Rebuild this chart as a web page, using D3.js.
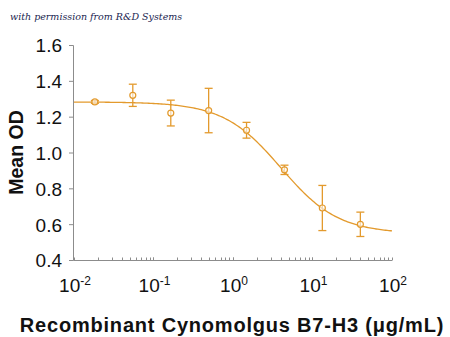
<!DOCTYPE html>
<html>
<head>
<meta charset="utf-8">
<script src="https://d3js.org/d3.v7.min.js"></script>
<style>
  body { margin: 0; background: #fff; }
  svg { display: block; }
</style>
</head>
<body>
<div id="chart"></div>
<script>
// concentrations (ug/mL), 3-fold serial dilution
var conc = [0.0183, 0.0549, 0.165, 0.494, 1.48, 4.44, 13.3, 40]
var meanOD = [1.285, 1.322, 1.223, 1.237, 1.127, 0.906, 0.693, 0.602]
var errOD = [0.008, 0.062, 0.072, 0.124, 0.044, 0.026, 0.126, 0.068]
// 4PL fit shown as the curve
var fitTop = 1.285, fitBottom = 0.55, fitEC50 = 4.0, fitHill = 1.2
var xTicks = [0.01, 0.1, 1, 10, 100]
var xTickLabels = ["-2", "-1", "0", "1", "2"]
var yTicks = [0.4, 0.6, 0.8, 1.0, 1.2, 1.4, 1.6]

var W = 450, H = 337
var orange = "#e39a2d"
var axisColour = "#8c8c8c"
var font = "Liberation Sans, Arial, sans-serif"

var svg = d3.select("#chart").append("svg")
  .attr("width", W).attr("height", H)

var x = d3.scaleLog().domain([0.01, 100]).range([74, 392])
var y = d3.scaleLinear().domain([0.4, 1.6]).range([260.5, 45.5])

svg.append("text")
  .attr("x", 10).attr("y", 20)
  .attr("font-family", "DejaVu Serif, serif")
  .attr("font-style", "italic")
  .attr("font-size", 9.5)
  .attr("fill", "#1a2550")
  .text("with permission from R&D Systems")

// y axis
var yAxis = svg.append("g")
yAxis.append("line")
  .attr("x1", 73.5).attr("x2", 73.5)
  .attr("y1", y(1.6)).attr("y2", y(0.4))
  .attr("stroke", axisColour)
yAxis.selectAll("line.tick").data(yTicks).enter().append("line")
  .attr("x1", 69).attr("x2", 73.5)
  .attr("y1", function (d) { return y(d) }).attr("y2", function (d) { return y(d) })
  .attr("stroke", axisColour)
yAxis.selectAll("text").data(yTicks).enter().append("text")
  .attr("x", 62).attr("y", function (d) { return y(d) })
  .attr("dy", "0.36em")
  .attr("text-anchor", "end")
  .attr("font-family", font)
  .attr("font-size", 19)
  .attr("fill", "#111")
  .text(function (d) { return d.toFixed(1) })

// x axis
var xAxis = svg.append("g")
xAxis.append("line")
  .attr("x1", 73.5).attr("x2", 392)
  .attr("y1", 260.5).attr("y2", 260.5)
  .attr("stroke", axisColour)
var minor = []
for (var e = -2; e < 2; e++) {
  for (var m = 1; m <= 10; m++) minor.push(m * Math.pow(10, e))
}
xAxis.selectAll("line.minor").data(minor).enter().append("line")
  .attr("x1", function (d) { return Math.round(x(d)) + 0.5 })
  .attr("x2", function (d) { return Math.round(x(d)) + 0.5 })
  .attr("y1", 257.5).attr("y2", 260.5)
  .attr("stroke", axisColour)
var xl = xAxis.selectAll("text").data(xTicks).enter().append("text")
  .attr("x", function (d) { return x(d) + 1 })
  .attr("y", 292)
  .attr("text-anchor", "middle")
  .attr("font-family", font)
  .attr("font-size", 19)
  .attr("fill", "#111")
xl.append("tspan").text("10")
xl.append("tspan").attr("dy", -7).attr("font-size", 12)
  .text(function (d, i) { return xTickLabels[i] })

// axis titles
svg.append("text")
  .attr("transform", "translate(23," + (y(1.0) - 0.5) + ") rotate(-90)")
  .attr("text-anchor", "middle")
  .attr("font-family", font)
  .attr("font-weight", "bold")
  .attr("font-size", 19.5)
  .attr("fill", "#111")
  .text("Mean OD")
svg.append("text")
  .attr("x", 232).attr("y", 332)
  .attr("text-anchor", "middle")
  .attr("font-family", font)
  .attr("font-weight", "bold")
  .attr("font-size", 20)
  .attr("letter-spacing", 0.8)
  .attr("fill", "#111")
  .text("Recombinant Cynomolgus B7-H3 (\u03bcg/mL)")

// fitted curve
var curveX = d3.range(0, 201).map(function (i) { return Math.pow(10, -2 + i * 4 / 200) })
function fit(c) { return fitBottom + (fitTop - fitBottom) / (1 + Math.pow(c / fitEC50, fitHill)) }
svg.append("path")
  .datum(curveX)
  .attr("d", d3.line().x(function (c) { return x(c) }).y(function (c) { return y(fit(c)) }))
  .attr("fill", "none")
  .attr("stroke", orange)
  .attr("stroke-width", 1.3)

// error bars
var pts = conc.map(function (c, i) { return { c: c, v: meanOD[i], e: errOD[i] } })
var eb = svg.selectAll("g.err").data(pts).enter().append("g")
eb.append("line")
  .attr("x1", function (d) { return x(d.c) }).attr("x2", function (d) { return x(d.c) })
  .attr("y1", function (d) { return y(d.v + d.e) }).attr("y2", function (d) { return y(d.v - d.e) })
  .attr("stroke", orange).attr("stroke-width", 1.3)
eb.append("line")
  .attr("x1", function (d) { return x(d.c) - 4 }).attr("x2", function (d) { return x(d.c) + 4 })
  .attr("y1", function (d) { return y(d.v + d.e) }).attr("y2", function (d) { return y(d.v + d.e) })
  .attr("stroke", orange).attr("stroke-width", 1.3)
eb.append("line")
  .attr("x1", function (d) { return x(d.c) - 4 }).attr("x2", function (d) { return x(d.c) + 4 })
  .attr("y1", function (d) { return y(d.v - d.e) }).attr("y2", function (d) { return y(d.v - d.e) })
  .attr("stroke", orange).attr("stroke-width", 1.3)
eb.append("circle")
  .attr("cx", function (d) { return x(d.c) }).attr("cy", function (d) { return y(d.v) })
  .attr("r", 3)
  .attr("fill", "#fff")
  .attr("fill-opacity", 0.6)
  .attr("stroke", orange).attr("stroke-width", 1.2)
</script>
</body>
</html>
